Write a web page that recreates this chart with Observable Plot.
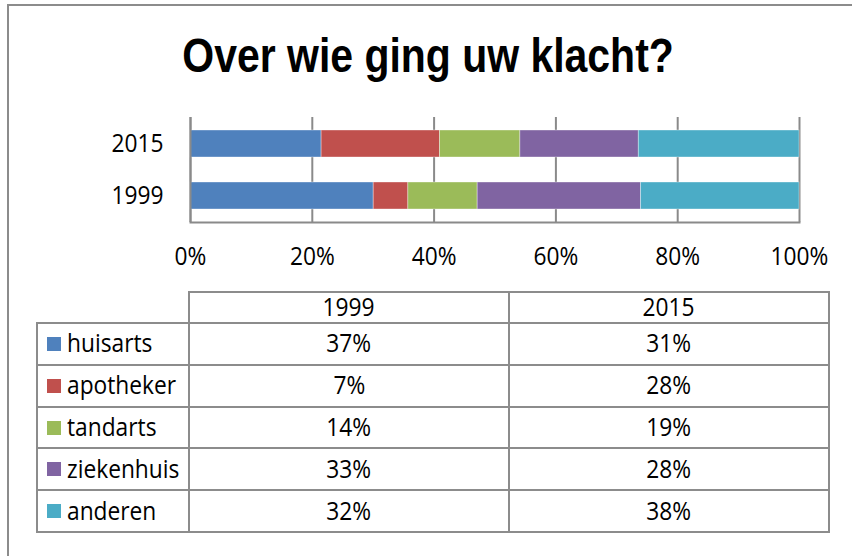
<!DOCTYPE html>
<html>
<head>
<meta charset="utf-8">
<script src="https://cdn.jsdelivr.net/npm/d3@7"></script>
<script src="https://cdn.jsdelivr.net/npm/@observablehq/plot@0.6"></script>
<style>
html, body { margin: 0; padding: 0; background: #fff; overflow: hidden; width: 852px; height: 556px; }
#page { position: relative; width: 852px; height: 556px; overflow: hidden; font-family: "Open Sans", sans-serif; color: #000; background: #fff; }
#frame { position: absolute; left: 7px; top: 4px; width: 900px; height: 600px; border-left: 2px solid #8c8c8c; border-top: 2px solid #8c8c8c; }
#title { position: absolute; left: 0; top: 32px; width: 857px; text-align: center; font: bold 47.5px "Liberation Sans", Arial, sans-serif; line-height: 1; white-space: nowrap; }
#title span { display: inline-block; transform: scaleX(0.862); }
#chart { position: absolute; left: 0; top: 0; }
.line { position: absolute; background: #8c8c8c; }
.cell { position: absolute; display: flex; align-items: center; justify-content: center; font-size: 25px; line-height: 1; white-space: nowrap; }
.cell span { display: inline-block; transform: scaleX(0.91); }
.lab { justify-content: flex-start; }
.lab span { transform-origin: 0 50%; }
.key { position: absolute; width: 14px; height: 14px; }
</style>
</head>
<body>
<div id="page">
  <div id="frame"></div>
  <div id="chart"></div>
  <div id="title"><span>Over wie ging uw klacht?</span></div>
  <div id="table"></div>
</div>
<script>
// ---- data ----
const barYears = ["2015", "1999"];          // order of bars, top to bottom
const tableYears = ["1999", "2015"];        // table columns
const categories = ["huisarts", "apotheker", "tandarts", "ziekenhuis", "anderen"];
const values1999 = [37, 7, 14, 33, 32];
const values2015 = [31, 28, 19, 28, 38];
const xTicks = [0, 0.2, 0.4, 0.6, 0.8, 1];
const palette = ["#4F81BD", "#C0504D", "#9BBB59", "#8064A2", "#4BACC6"];
const titleText = "Over wie ging uw klacht?";

const valuesByYear = { "1999": values1999, "2015": values2015 };
const rows = [];
categories.forEach((c, i) => {
  tableYears.forEach(y => rows.push({ year: y, category: c, value: valuesByYear[y][i] }));
});

const axisColor = "#8a8a8a";
const pct = d3.format(".0%");

const chart = Plot.plot({
  width: 852,
  height: 290,
  marginLeft: 190,
  marginRight: 53,
  marginTop: 117,
  marginBottom: 68,
  style: { background: "transparent", fontFamily: "'Open Sans', sans-serif", fontSize: "25px", color: "#000", overflow: "visible" },
  x: { domain: [0, 1], ticks: xTicks, tickFormat: pct, label: null },
  y: { domain: barYears, paddingInner: 0.49, paddingOuter: 0.245, label: null },
  color: { domain: categories, range: palette },
  marks: [
    Plot.gridX(xTicks, { stroke: axisColor, strokeOpacity: 1, strokeWidth: 2 }),
    Plot.barX(rows, Plot.stackX({ x: "value", y: "year", fill: "category", offset: "normalize", stroke: "#fff", strokeOpacity: 0.45, strokeWidth: 0.8 })),
    Plot.ruleX([0], { stroke: axisColor, strokeWidth: 2 }),
    Plot.frame({ anchor: "bottom", stroke: axisColor, strokeWidth: 2 }),
    Plot.axisX(xTicks, { tickSize: 0, tickPadding: 25, tickFormat: pct, label: null, fill: "#000" }),
    Plot.axisY({ tickSize: 0, tickPadding: 27, label: null, fill: "#000" })
  ]
});
document.getElementById("chart").appendChild(chart);
document.querySelector("#title span").textContent = titleText;

// horizontally condense svg text to match reference glyph proportions
chart.querySelectorAll("text").forEach(t => {
  const L = t.getComputedTextLength();
  if (L > 0) {
    t.setAttribute("textLength", (L * 0.91).toFixed(2));
    t.setAttribute("lengthAdjust", "spacingAndGlyphs");
  }
});

// ---- data table below the chart ----
const color = chart.scale("color");
const table = document.getElementById("table");
const colX = [37, 189, 509, 829];
const headTop = 292, bodyTop = 323, rowH = 41.8, lw = 2;
const bodyBottom = bodyTop + rowH * categories.length;

function line(x1, y1, x2, y2) {
  const d = document.createElement("div");
  d.className = "line";
  if (y1 === y2) {
    d.style.left = (x1 - lw / 2) + "px"; d.style.top = (y1 - lw / 2) + "px";
    d.style.width = (x2 - x1 + lw) + "px"; d.style.height = lw + "px";
  } else {
    d.style.left = (x1 - lw / 2) + "px"; d.style.top = (y1 - lw / 2) + "px";
    d.style.width = lw + "px"; d.style.height = (y2 - y1 + lw) + "px";
  }
  table.appendChild(d);
}
function cell(text, left, top, width, height, cls) {
  const d = document.createElement("div");
  d.className = "cell" + (cls ? " " + cls : "");
  d.style.left = left + "px"; d.style.top = top + "px";
  d.style.width = width + "px"; d.style.height = height + "px";
  const s = document.createElement("span");
  s.textContent = text;
  d.appendChild(s);
  table.appendChild(d);
}

// grid lines
line(colX[1], headTop, colX[3], headTop);
for (let i = 0; i <= categories.length; i++) {
  const y = bodyTop + i * rowH;
  line(colX[0], y, colX[3], y);
}
line(colX[0], bodyTop, colX[0], bodyBottom);
for (let j = 1; j < colX.length; j++) line(colX[j], headTop, colX[j], bodyBottom);

// header
tableYears.forEach((y, j) => {
  cell(y, colX[j + 1], headTop - 1, colX[j + 2] - colX[j + 1], bodyTop - headTop);
});
// body
categories.forEach((c, i) => {
  const top = bodyTop + i * rowH;
  const k = document.createElement("div");
  k.className = "key";
  k.style.left = "47px";
  k.style.top = (top + rowH / 2 - 7) + "px";
  k.style.background = color.apply(c);
  table.appendChild(k);
  cell(c, 67, top - 1, colX[1] - 67, rowH, "lab");
  tableYears.forEach((y, j) => {
    cell(valuesByYear[y][i] + "%", colX[j + 1], top - 1, colX[j + 2] - colX[j + 1], rowH);
  });
});
</script>
</body>
</html>
